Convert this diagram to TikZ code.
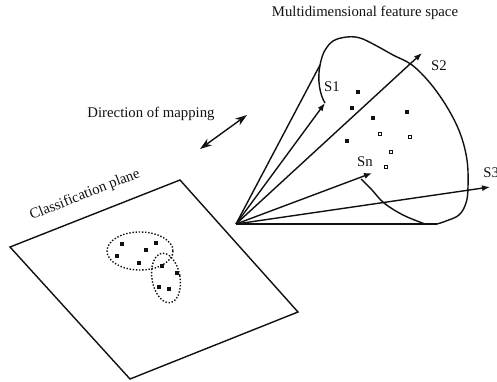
\documentclass[tikz,border=0pt]{standalone}
\usepackage{fontspec}
\setmainfont{Liberation Serif}
\usetikzlibrary{arrows.meta}
\definecolor{InkBlack}{HTML}{111111}
\tikzset{edge/.style={draw=InkBlack,thick},
vec/.style={edge,-{Latex[length=1.6mm,width=1.2mm]}},
cluster/.style={draw=InkBlack,densely dotted,thick},
fdot/.style={fill=InkBlack,inner sep=0pt,minimum size=0.85mm},
odot/.style={draw=InkBlack,line width=0.6pt,fill=white,inner sep=0pt,minimum size=0.75mm},
lab/.style={font=\fontsize{8.4}{10}\selectfont,inner sep=0pt,text=InkBlack},
mapflow/.style={edge,{Stealth[length=2.4mm,width=1.6mm]}-{Stealth[length=2.4mm,width=1.6mm]}}}
\begin{document}
\begin{tikzpicture}[x=0.02cm,y=-0.02cm]
\useasboundingbox (0,0) rectangle (497,382);
% feature space cone
\coordinate (O) at (236,224);
\coordinate (lft) at (320,65);
\coordinate (bot) at (437,224);
\coordinate (s1) at (325,103);
\coordinate (s2) at (422,53);
\coordinate (sn) at (372,173);
\coordinate (s3) at (490,187);
\draw[edge](O)--(lft);\draw[edge](O)--(bot);
\draw[edge] plot[smooth,tension=0.6] coordinates {(320,65) (324,52) (333,41) (347,37) (360,38) (375,45) (393,55) (412,65) (430,83) (447,107) (460,133) (467,160) (468,187) (466,203) (459,215) (446,221) (437,224)};
\draw[edge] plot[smooth,tension=0.6] coordinates {(361,179) (372,190) (384,203) (403,215) (425,224)};
\draw[edge](lft) .. controls (317,80) and (320,95) .. (s1);
\draw[vec](O)--(s1);\draw[vec](O)--(s2);
\draw[vec](O)--(sn);\draw[vec](O)--(s3);
\node[lab](t1) at (332,87){S1};
\node[lab](t2) at (439,66){S2};
\node[lab](tn) at (365,162){Sn};
\node[lab,anchor=west](t3) at (483,173){S3};
% points in feature space
\foreach \p in {(358,92),(352,108),(373,118),(407,112),(347,141)}
  \node[fdot] at \p {};
\foreach \p in {(380,134),(410,137),(391,152),(386,167)}
  \node[odot] at \p {};
\node[lab](title) at (365,13){Multidimensional feature space};
% mapping direction
\node[lab](dir) at (151,114){Direction of mapping};
\coordinate (m1) at (200,149);
\coordinate (m2) at (247,115);
\draw[mapflow](m1)--(m2);
% classification plane
\coordinate (pA) at (10,247);
\coordinate (pB) at (180,180);
\coordinate (pC) at (298,312);
\coordinate (pD) at (130,379);
\draw[edge](pA)--(pB)--(pC)--(pD)--cycle;
\node[lab,rotate=21.5](plane) at (85,195){Classification plane};
\draw[cluster] (140,251) ellipse [x radius=33,y radius=19];
\draw[cluster,rotate around={10:(166,278)}] (166,278) ellipse [x radius=14,y radius=25];
\foreach \p in {(122,244),(156,243),(146,250),(117,256),(139,263),(162,266),(177,273),(159,287),(169,289)}
  \node[fdot] at \p {};
\end{tikzpicture}
\end{document}
